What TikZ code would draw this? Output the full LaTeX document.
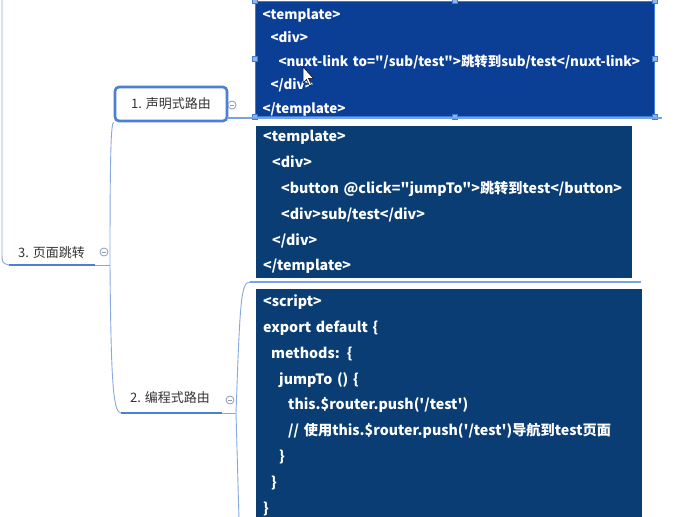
\documentclass[tikz,border=0pt]{standalone}
\usepackage{fontspec}
\newfontfamily\cjk{Noto Sans CJK SC}
\usetikzlibrary{positioning}
\definecolor{SelBlue}{HTML}{0B3F96}
\definecolor{SelEdge}{HTML}{3E7BD6}
\definecolor{Navy}{HTML}{0A3D73}
\definecolor{Branch}{HTML}{86AAE0}
\definecolor{Under}{HTML}{4D80D2}
\definecolor{Ink}{HTML}{333333}
\definecolor{Fold}{HTML}{8C9BB5}

\begin{document}
\begin{tikzpicture}[x=1pt,y=-1pt,
code/.style={fill=Navy,text=white,align=left,anchor=north west,inner xsep=7pt,inner ysep=0pt,font=\cjk\bfseries\fontsize{14.2}{25.8}\selectfont},
topic/.style={text=Ink,inner sep=1pt,font=\cjk\fontsize{13}{15}\selectfont},
fold/.style={circle,draw=Fold,fill=white,minimum size=8pt,inner sep=0pt,line width=0.8pt,
  path picture={\draw[Fold,line width=0.8pt] ([xshift=-2pt]path picture bounding box.center)--([xshift=2pt]path picture bounding box.center);}},
handle/.style={rectangle,draw=SelEdge,fill=SelEdge!55,minimum size=5pt,inner sep=0pt},
branch/.style={draw=Branch,line width=0.9pt},
under/.style={draw=Under,line width=2.4pt}]
\useasboundingbox[fill=white] (0,0) rectangle (692,516);
\clip (0,0) rectangle (692,516);

% code boxes
\node[code,fill=SelBlue,draw=SelEdge,line width=1pt,minimum width=399pt,minimum height=115pt,text width=385pt,
  font=\cjk\bfseries\fontsize{13.4}{23.5}\selectfont] (tpl1) at (255,1) {%
\rule{0pt}{17pt}<template>\\
\hspace*{8pt}<div>\\
\hspace*{16pt}<nuxt-link to="/sub/test">跳转到sub/test</nuxt-link>\\
\hspace*{8pt}</div>\\
</template>};
\node[code,minimum width=376pt,minimum height=152pt,text width=362pt] (tpl2) at (256,126) {%
<template>\\
\hspace*{9pt}<div>\\
\hspace*{18pt}<button @click="jumpTo">跳转到test</button>\\
\hspace*{18pt}<div>sub/test</div>\\
\hspace*{9pt}</div>\\
</template>};
\node[code,minimum width=386pt,minimum height=232pt,text width=372pt] (scr) at (256,289) {%
<script>\\
export default \{\\
\hspace*{8pt}methods: \{\\
\hspace*{16pt}jumpTo () \{\\
\hspace*{25pt}this.\$router.push('/test')\\
\hspace*{25pt}// 使用this.\$router.push('/test')导航到test页面\\
\hspace*{16pt}\}\\
\hspace*{8pt}\}\\
\}};
\foreach \a [count=\i] in {north west,north,north east,east,south east,south,south west,west}
  \node[handle] (h\i) at (tpl1.\a) {};
% mouse pointer
\draw[fill=white,line width=0.5pt] (303,67) -- (303,83) -- (306.5,79.5) -- (309.5,86) -- (311.5,85) -- (308.5,78.5) -- (313.5,78.5) -- cycle;

% topics
\node[topic,anchor=west] (page) at (17,253) {3. 页面跳转};
\node[draw=Under,line width=2.6pt,rounded corners=4pt,fill=white,minimum width=112pt,minimum height=34pt,
  text=Ink,font=\cjk\fontsize{13}{15}\selectfont] (decl) at (171,104) {1. 声明式路由};
\node[topic] (prog) at (170,398) {2. 编程式路由};
\node[fold] (f3) at (104,252) {};
\node[fold] (f1) at (232,105) {};
\node[fold] (f2) at (230,400) {};

% connectors
\coordinate (up) at (2,0);
\coordinate (pagel) at (9,265);
\coordinate (pager) at (95,265);
\coordinate (fork) at (110,265);
\coordinate (declr) at (227,118);
\coordinate (tplr) at (662,118);
\coordinate (progl) at (121,413);
\coordinate (progr) at (222,413);
\coordinate (pfork) at (236,413);
\coordinate (scrl) at (250,282);
\coordinate (scrr) at (641,282);
\coordinate (down) at (239,520);
\draw[branch] (up) -- (2,252) .. controls (2,263) .. (pagel);
\draw[under] (pagel) -- (pager);
\draw[branch] (pager) -- (fork);
\draw[branch] (fork) .. controls (110,150) and (111,123) .. (decl.south west);
\draw[branch] (fork) .. controls (111,380) and (113,413) .. (progl);
\draw[under,draw=SelEdge!70,line width=1.6pt] (declr) -- (tplr);
\draw[under] (progl) -- (progr);
\draw[branch] (progr) -- (pfork);
\draw[branch] (pfork) .. controls (240,300) and (241,282) .. (scrl);
\draw[under,draw=SelEdge!70,line width=1.8pt] (scrl) -- (scrr);
\draw[branch] (pfork) -- (down);
\end{tikzpicture}
\end{document}
